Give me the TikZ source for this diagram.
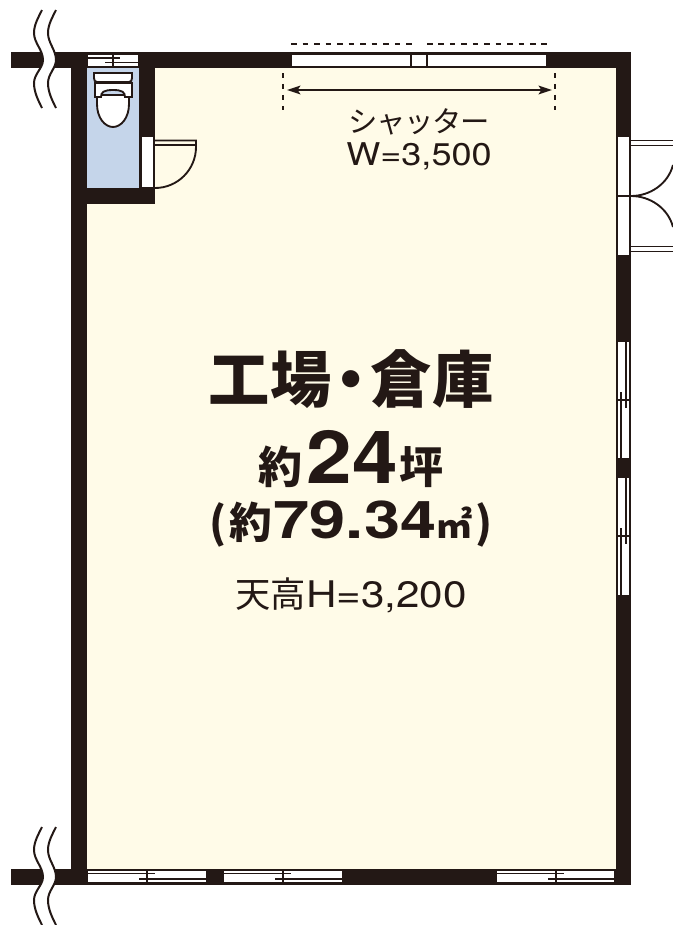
\documentclass[tikz,border=0pt]{standalone}
\usepackage{fontspec}
\usetikzlibrary{arrows.meta}
\setmainfont{Noto Sans CJK JP}
\newfontfamily\lat[FakeStretch=1.15]{TeX Gyre Heros}
\newfontfamily\latb[FakeStretch=1.12]{TeX Gyre Heros}
\newfontfamily\latc[FakeStretch=1.25]{TeX Gyre Heros}
\definecolor{ink}{HTML}{231815}
\definecolor{floorc}{HTML}{FFFBE8}
\definecolor{wc}{HTML}{C5D5EA}
\newcommand{\hwin}[3]{% x left, x right, y top
  \fill[white] (#1,#3) rectangle (#2,#3+11);
  \draw[ln] (#1,#3+2.5) -- (#1+67,#3+2.5);
  \draw[ln] (#1+51,#3+8) -- (#2,#3+8);
  \draw[ln] (#1+59,#3) -- (#1+59,#3+11);
}
\newcommand{\vwin}[2]{% y top, y bottom
  \fill[white] (618,#1) rectangle (629,#2);
  \draw[ln] (626,#1) -- (626,#1+66);
  \draw[ln] (621,#1+50) -- (621,#2);
  \draw[ln] (617,#1+58) -- (630,#1+58);
}
\tikzset{
  wall/.style={fill=ink},
  ln/.style={draw=ink,line width=1.4pt},
  thinln/.style={draw=ink,line width=1.1pt},
  breakln/.style={draw=ink,line width=1.5pt},
  lab/.style={text=ink,inner sep=0pt,anchor=base,font=\fontsize{22}{22}\selectfont},
}
\begin{document}
\begin{tikzpicture}[x=0.75pt,y=-0.75pt]
\useasboundingbox (0,0) rectangle (673,925);
\fill[white] (0,0) rectangle (673,925);
% walls and floor
\fill[wall] (71,52) rectangle (631,885);
\fill[wall] (11,52) rectangle (71,68);
\fill[wall] (11,869) rectangle (71,885);
\fill[floorc] (87,68) rectangle (616,869);
\fill[wall] (87,68) rectangle (155,204);
\fill[wc] (87,68) rectangle (139,188);
% breaks
\foreach \d in {0,817}{
  \fill[white] (42,10+\d) .. controls (38,18+\d) and (34,25+\d) .. (34,33+\d)
     .. controls (34,43+\d) and (43,50+\d) .. (43,60+\d)
     .. controls (43,68+\d) and (34,74+\d) .. (34,83+\d)
     .. controls (34,92+\d) and (38,100+\d) .. (42,108+\d) -- (56,108+\d)
     .. controls (52,100+\d) and (48,92+\d) .. (48,83+\d)
     .. controls (48,74+\d) and (56,68+\d) .. (56,60+\d)
     .. controls (56,50+\d) and (48,43+\d) .. (48,33+\d)
     .. controls (48,25+\d) and (52,18+\d) .. (56,10+\d) -- cycle;
  \draw[breakln] (42,10+\d) .. controls (38,18+\d) and (34,25+\d) .. (34,33+\d)
     .. controls (34,43+\d) and (43,50+\d) .. (43,60+\d)
     .. controls (43,68+\d) and (34,74+\d) .. (34,83+\d)
     .. controls (34,92+\d) and (38,100+\d) .. (42,108+\d);
  \draw[breakln] (56,10+\d) .. controls (52,18+\d) and (48,25+\d) .. (48,33+\d)
     .. controls (48,43+\d) and (56,50+\d) .. (56,60+\d)
     .. controls (56,68+\d) and (48,74+\d) .. (48,83+\d)
     .. controls (48,92+\d) and (52,100+\d) .. (56,108+\d);
}
% toilet window
\fill[white] (88,55) rectangle (138,66);
\draw[ln] (88,58) -- (120,58);
\draw[ln] (105,62.5) -- (138,62.5);
\draw[ln] (113,54) -- (113,66);
% toilet
\draw[ln,fill=white] (97,95) -- (97,104) .. controls (97,118) and (105,127) .. (113,127)
   .. controls (121,127) and (129,118) .. (129,104) -- (129,95) -- cycle;
\draw[ln,fill=white] (95,83) -- (132,83) -- (132,97) -- (125,97) .. controls (125,92) and (122,90) .. (113,90)
   .. controls (104,90) and (101,92) .. (101,97) -- (95,97) -- cycle;
\draw[ln,fill=white] (94,73) -- (132,73) -- (132,78) .. controls (132,80.5) and (131,82) .. (129,82)
   -- (97,82) .. controls (95,82) and (94,80.5) .. (94,78) -- cycle;
% WC door
\fill[white] (141.5,137) rectangle (152.5,187);
\draw[ln] (155,140.5) -- (196,140.5) -- (196,147) .. controls (196,169.6) and (177.6,188) .. (155,188);
\draw[thinln] (155,145) -- (196,145);
% shutter
\fill[white] (292,55) rectangle (546,65.5);
\draw[ln] (411,55) -- (411,66);
\draw[ln] (427,55) -- (427,66);
\draw[ink,line width=1.6pt,dash pattern=on 4.2pt off 4.45pt] (291,44) -- (412,44);
\draw[ink,line width=1.6pt,dash pattern=on 4.2pt off 4.38pt] (427,44) -- (547,44);
\draw[ink,line width=1.6pt,dash pattern=on 4.1pt off 4.1pt] (283,73) -- (283,110);
\draw[ink,line width=1.6pt,dash pattern=on 4.1pt off 4.1pt] (555,73) -- (555,110);
\coordinate (shutL) at (287,90);
\coordinate (shutR) at (552,90);
\draw[ink,line width=1.6pt,{Stealth[length=10pt,width=6.5pt,inset=2pt]}-{Stealth[length=10pt,width=6.5pt,inset=2pt]}] (shutL) -- (shutR);
% right double door
\fill[white] (618,137) rectangle (629,255);
\draw[thinln] (630,137) -- (630,255);
\draw[ln] (617,196) -- (631,196);
\draw[ln] (631,196) .. controls (650,196) and (668,184) .. (673,165);
\draw[ln] (631,196) .. controls (650,196) and (668,208) .. (673,227);
\draw[thinln] (631,140.5) -- (673,140.5);
\draw[thinln] (631,145.5) -- (673,145.5);
\draw[thinln] (631,246.5) -- (673,246.5);
\draw[thinln] (631,251.5) -- (673,251.5);
% right windows
\vwin{342}{458}
\vwin{478}{595}
% bottom windows
\hwin{88}{206}{871}
\hwin{224}{342}{871}
\hwin{497}{614}{871}
% labels
\node[lab] (shutterjp) at (419,132) {シ\hspace{-.05em}ャ\hspace{-.05em}ッ\hspace{-.05em}タ\hspace{-.05em}ー};
\node[lab] (shutterw) at (419,165) {\fontsize{23.5}{23.5}\selectfont\lat W=3,500};
\node[lab] (title) at (351,402) {\fontsize{46}{46}\selectfont\bfseries 工場\hspace{-0.18em}・\hspace{-0.18em}倉庫};
\node[lab] (tsubo) at (351,483) {\fontsize{33}{33}\selectfont\bfseries 約\hspace{.1em}{\fontsize{55}{55}\selectfont\latb\bfseries 24}\hspace{.05em}坪};
\node[lab] (area) at (351,538) {\fontsize{32}{32}\selectfont\bfseries (\hspace{.08em}約\hspace{.03em}{\fontsize{39}{39}\selectfont\latc 79.34}{\fontsize{27}{27}\selectfont ㎡}\hspace{.08em})};
\node[lab] (height) at (351,607) {\fontsize{26.5}{26.5}\selectfont 天高{\fontsize{27.5}{27.5}\selectfont\lat H=3,200}};
\end{tikzpicture}
\end{document}
